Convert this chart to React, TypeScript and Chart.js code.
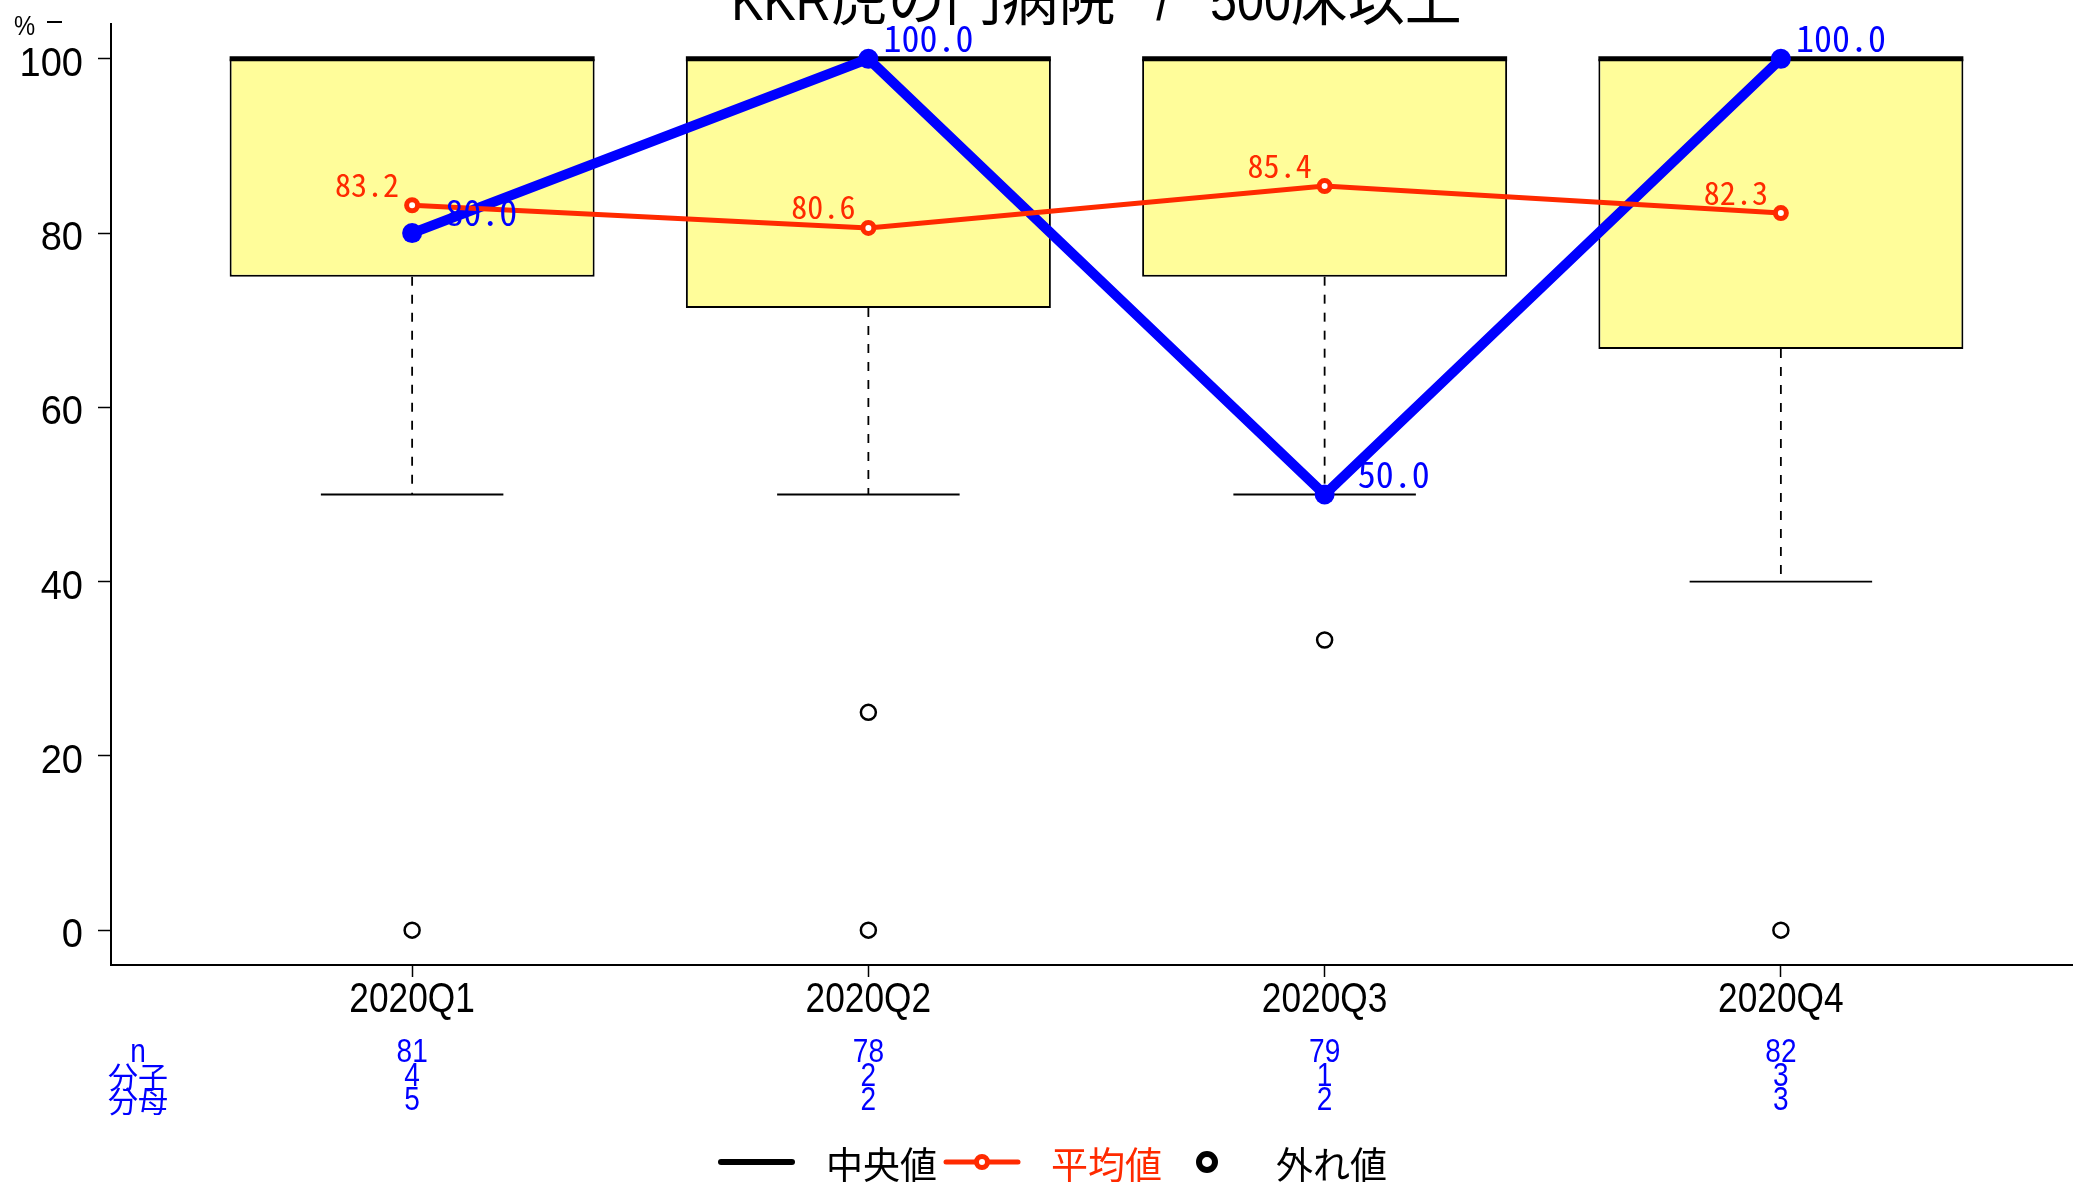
import React, { useEffect, useRef } from 'react';
import { Chart, registerables } from 'chart.js';

Chart.register(...registerables);

const categories = ['2020Q1', '2020Q2', '2020Q3', '2020Q4'];
const boxLower = [75, 71.4, 75, 66.7];
const boxUpper = [100, 100, 100, 100];
const medians = [100, 100, 100, 100];
const whiskerLow = [50, 50, 50, 40];
const whiskerHigh = [100, 100, 100, 100];
const outliers = [[0], [25, 0], [33.3], [0]];
const meanValues = [83.2, 80.6, 85.4, 82.3];
const ownValues = [80.0, 100.0, 50.0, 100.0];
const nValues = [81, 78, 79, 82];
const numerators = [4, 2, 1, 3];
const denominators = [5, 2, 2, 3];
const yTicks = [0, 20, 40, 60, 80, 100];
const statsLabels = ['n', '分子', '分母'];
const titleParts = ['KKR', '虎の門病院', '   /   ', '500', '床以上'];
const legendLabels = ['中央値', '平均値', '外れ値'];
const yUnitLabel = '%';

const RED = '#FF2A00';
const BLUE = '#0000FF';
const BOX_FILL = '#FFFD9A';
const LATIN = "'Liberation Sans', sans-serif";
const CJK = "'Noto Sans CJK JP', 'Liberation Sans', sans-serif";
const MONO = "'Noto Sans Mono CJK JP', 'DejaVu Sans Mono', monospace";
const NARROW_SX = 0.85;

const BAR_INDEX = 3;

function isCJK(s: string) {
  return /[\u3000-\u9fff]/.test(s);
}

function drawScaled(ctx: CanvasRenderingContext2D, text: string, x: number, y: number, sx: number, align: CanvasTextAlign) {
  ctx.save();
  ctx.translate(x, y);
  ctx.scale(sx, 1);
  ctx.textAlign = align;
  ctx.fillText(text, 0, 0);
  ctx.restore();
}

const extras = {
  id: 'extras',
  afterDatasetDraw(chart: any, args: any) {
    if (args.index !== BAR_INDEX) return;
    const { ctx } = chart;
    const x = chart.scales.x;
    const y = chart.scales.y;
    const unit = x.getPixelForValue(2) - x.getPixelForValue(1);
    ctx.save();
    ctx.strokeStyle = '#000';
    categories.forEach((_, i) => {
      const cx = x.getPixelForValue(i + 1);
      const yq1 = y.getPixelForValue(boxLower[i]);
      const yq3 = y.getPixelForValue(boxUpper[i]);
      const ywl = y.getPixelForValue(whiskerLow[i]);
      const ywh = y.getPixelForValue(whiskerHigh[i]);
      ctx.lineWidth = 1.8;
      ctx.setLineDash([9, 9]);
      ctx.beginPath();
      ctx.moveTo(cx, yq1);
      ctx.lineTo(cx, ywl);
      if (whiskerHigh[i] > boxUpper[i]) {
        ctx.moveTo(cx, yq3);
        ctx.lineTo(cx, ywh);
      }
      ctx.stroke();
      ctx.setLineDash([]);
      ctx.beginPath();
      ctx.moveTo(cx - unit * 0.2, ywl);
      ctx.lineTo(cx + unit * 0.2, ywl);
      if (whiskerHigh[i] > boxUpper[i]) {
        ctx.moveTo(cx - unit * 0.2, ywh);
        ctx.lineTo(cx + unit * 0.2, ywh);
      }
      ctx.stroke();
      const ym = y.getPixelForValue(medians[i]);
      ctx.lineWidth = 5;
      ctx.beginPath();
      ctx.moveTo(cx - unit * 0.4, ym);
      ctx.lineTo(cx + unit * 0.4, ym);
      ctx.stroke();
    });
    ctx.restore();
  },
  afterDatasetsDraw(chart: any) {
    const { ctx } = chart;
    const x = chart.scales.x;
    const y = chart.scales.y;
    ctx.save();
    ctx.textBaseline = 'alphabetic';
    ctx.textAlign = 'right';
    ctx.fillStyle = RED;
    ctx.font = `32px ${MONO}`;
    meanValues.forEach((v, i) => {
      ctx.fillText(v.toFixed(1), x.getPixelForValue(i + 1) - 13, y.getPixelForValue(v) - 8.5);
    });
    ctx.fillStyle = BLUE;
    ctx.font = `36px ${MONO}`;
    ownValues.forEach((v, i) => {
      ctx.fillText(v.toFixed(1), x.getPixelForValue(i + 1) + 105, y.getPixelForValue(v) - 7);
    });
    ctx.restore();
  },
  afterDraw(chart: any) {
    const { ctx, chartArea } = chart;
    const x = chart.scales.x;
    const y = chart.scales.y;
    ctx.save();
    ctx.fillStyle = '#000';

    // axis tick labels
    ctx.textBaseline = 'alphabetic';
    ctx.font = `40px ${LATIN}`;
    y.ticks.forEach((t: any) => {
      drawScaled(ctx, String(t.value), 83, y.getPixelForValue(t.value) + 17, 0.95, 'right');
    });
    ctx.font = `42px ${LATIN}`;
    x.ticks.forEach((t: any) => {
      const lab = categories[Math.round(t.value) - 1];
      drawScaled(ctx, lab, x.getPixelForValue(t.value), 1012, 0.84, 'center');
    });

    // title (clipped at top)
    const titleFontSize = 57;
    const widths = titleParts.map((p) => {
      ctx.font = `${titleFontSize}px ${isCJK(p) ? CJK : LATIN}`;
      return ctx.measureText(p).width * (isCJK(p) ? 1 : NARROW_SX);
    });
    const total = widths.reduce((a, b) => a + b, 0);
    let tx = (chartArea.left + chartArea.right) / 2 - total / 2;
    titleParts.forEach((p, k) => {
      ctx.font = `${titleFontSize}px ${isCJK(p) ? CJK : LATIN}`;
      drawScaled(ctx, p, tx, 20, isCJK(p) ? 1 : NARROW_SX, 'left');
      tx += widths[k];
    });

    // unit label
    ctx.font = `28px ${LATIN}`;
    ctx.textBaseline = 'middle';
    drawScaled(ctx, yUnitLabel, 14, 27, NARROW_SX, 'left');
    ctx.lineWidth = 2;
    ctx.strokeStyle = '#000';
    ctx.beginPath();
    ctx.moveTo(47, 22);
    ctx.lineTo(62, 22);
    ctx.stroke();

    // stats rows
    const rowsY = [1053, 1077, 1101];
    const rows = [nValues, numerators, denominators];
    ctx.fillStyle = BLUE;
    ctx.textBaseline = 'middle';
    statsLabels.forEach((lab, r) => {
      if (isCJK(lab)) {
        ctx.font = `30px ${CJK}`;
        drawScaled(ctx, lab, 138, rowsY[r], 1, 'center');
      } else {
        ctx.font = `33px ${LATIN}`;
        drawScaled(ctx, lab, 138, rowsY[r], NARROW_SX, 'center');
      }
      ctx.font = `33px ${LATIN}`;
      rows[r].forEach((v, i) => {
        drawScaled(ctx, String(v), x.getPixelForValue(i + 1), rowsY[r], NARROW_SX, 'center');
      });
    });

    // legend
    const ly = 1162;
    ctx.lineCap = 'round';
    ctx.strokeStyle = '#000';
    ctx.lineWidth = 6;
    ctx.beginPath();
    ctx.moveTo(721, ly);
    ctx.lineTo(792, ly);
    ctx.stroke();
    ctx.strokeStyle = RED;
    ctx.lineWidth = 5;
    ctx.beginPath();
    ctx.moveTo(946, ly);
    ctx.lineTo(1018, ly);
    ctx.stroke();
    ctx.fillStyle = '#fff';
    ctx.beginPath();
    ctx.arc(982, ly, 5.5, 0, Math.PI * 2);
    ctx.fill();
    ctx.stroke();
    ctx.strokeStyle = '#000';
    ctx.lineWidth = 6;
    ctx.beginPath();
    ctx.arc(1207, ly, 8, 0, Math.PI * 2);
    ctx.fill();
    ctx.stroke();
    ctx.font = `37px ${CJK}`;
    ctx.textAlign = 'left';
    ctx.textBaseline = 'middle';
    ctx.fillStyle = '#000';
    ctx.fillText(legendLabels[0], 826, 1165);
    ctx.fillStyle = RED;
    ctx.fillText(legendLabels[1], 1051, 1165);
    ctx.fillStyle = '#000';
    ctx.fillText(legendLabels[2], 1276, 1165);
    ctx.restore();
  },
};

export default function App() {
  const ref = useRef<HTMLCanvasElement | null>(null);
  useEffect(() => {
    if (!ref.current) return;
    const outlierPoints: { x: number; y: number }[] = [];
    outliers.forEach((arr, i) => arr.forEach((v) => outlierPoints.push({ x: i + 1, y: v })));
    const chart = new Chart(ref.current, {
      type: 'line',
      data: {
        datasets: [
          {
            type: 'line',
            label: '平均値',
            data: meanValues.map((v, i) => ({ x: i + 1, y: v })),
            borderColor: RED,
            borderWidth: 5,
            pointRadius: 5.5,
            pointBorderWidth: 5,
            pointBackgroundColor: '#fff',
            pointBorderColor: RED,
            tension: 0,
            order: 0,
          },
          {
            type: 'line',
            label: 'own',
            data: ownValues.map((v, i) => ({ x: i + 1, y: v })),
            borderColor: BLUE,
            borderWidth: 10,
            pointRadius: 10,
            pointBorderWidth: 0,
            pointBackgroundColor: BLUE,
            tension: 0,
            order: 1,
          },
          {
            type: 'scatter',
            label: '外れ値',
            data: outlierPoints,
            showLine: false,
            pointRadius: 7.5,
            pointBorderWidth: 2.5,
            pointBorderColor: '#000',
            pointBackgroundColor: 'rgba(0,0,0,0)',
            order: 2,
          },
          {
            type: 'bar',
            label: 'box',
            data: categories.map((_, i) => ({ x: i + 1, y: [boxLower[i], boxUpper[i]] })),
            backgroundColor: BOX_FILL,
            borderColor: '#000',
            borderWidth: 2,
            borderSkipped: false,
            barPercentage: 0.8,
            categoryPercentage: 1,
            order: 3,
          },
        ] as any,
      },
      options: {
        animation: false,
        responsive: false,
        devicePixelRatio: 1,
        layout: { padding: { top: 24, right: 18, left: 0, bottom: 0 } },
        plugins: { legend: { display: false }, tooltip: { enabled: false }, title: { display: false } },
        scales: {
          x: {
            type: 'linear',
            min: 0.34,
            max: 4.66,
            offset: false,
            afterBuildTicks: (s: any) => {
              s.ticks = categories.map((_, i) => ({ value: i + 1 }));
            },
            afterFit: (s: any) => {
              s.height = 219;
              s.paddingLeft = 0;
              s.paddingRight = 0;
              s.paddingTop = 0;
              s.paddingBottom = 0;
            },
            ticks: { display: false },
            grid: { drawOnChartArea: false, drawTicks: true, tickLength: 12, tickColor: '#000', tickWidth: 1.5, offset: false },
            border: { display: true, color: '#000', width: 2 },
          },
          y: {
            type: 'linear',
            min: -4,
            max: 104,
            afterBuildTicks: (s: any) => {
              s.ticks = yTicks.map((v) => ({ value: v }));
            },
            afterFit: (s: any) => {
              s.width = 111;
              s.paddingLeft = 0;
              s.paddingRight = 0;
              s.paddingTop = 0;
              s.paddingBottom = 0;
            },
            ticks: { display: false },
            grid: { drawOnChartArea: false, drawTicks: true, tickLength: 13, tickColor: '#000', tickWidth: 1.5 },
            border: { display: true, color: '#000', width: 2 },
          },
        },
      } as any,
      plugins: [extras],
    });
    return () => chart.destroy();
  }, []);
  return (
    <div style={{ position: 'fixed', left: 0, top: 0, width: 2073, height: 1184, overflow: 'hidden', background: '#fff' }}>
      <canvas ref={ref} width={2100} height={1184} style={{ display: 'block', width: 2100, height: 1184 }} />
    </div>
  );
}
